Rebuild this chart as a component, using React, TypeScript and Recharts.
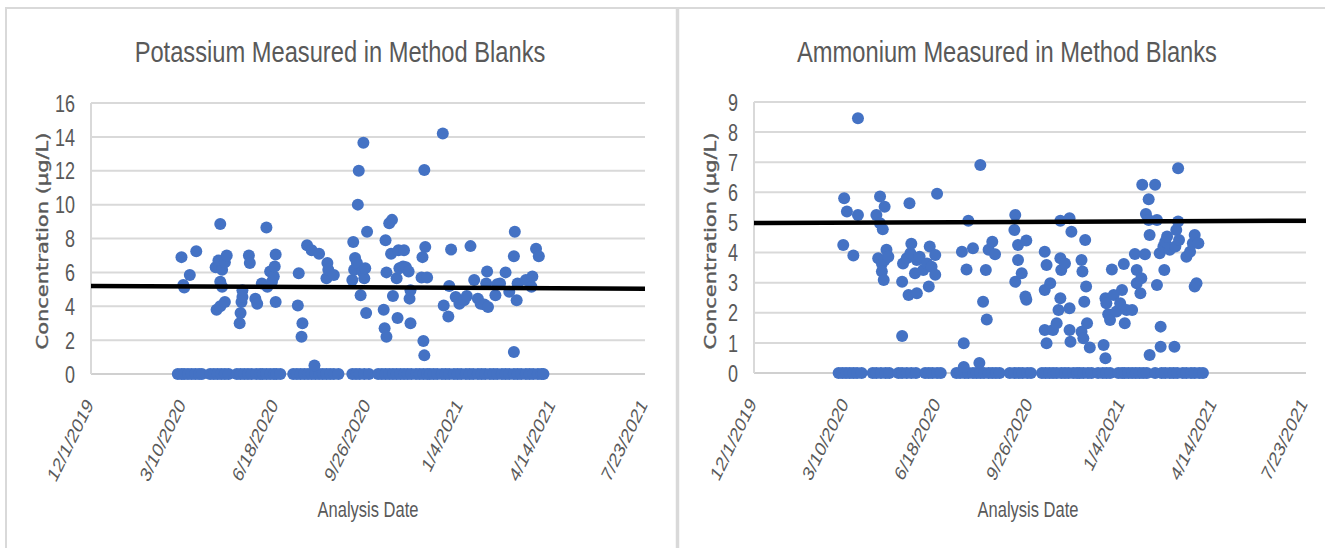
import { CartesianGrid, Scatter, ScatterChart, XAxis, YAxis } from 'recharts';

// x values are Excel date serials (43800 = 12/1/2019)
const xTicks = [43800, 43900, 44000, 44100, 44200, 44300, 44400];
const xTickLabels = ['12/1/2019', '3/10/2020', '6/18/2020', '9/26/2020', '1/4/2021', '4/14/2021', '7/23/2021'];

const potassiumTicks = [0, 2, 4, 6, 8, 10, 12, 14, 16];
const ammoniumTicks = [0, 1, 2, 3, 4, 5, 6, 7, 8, 9];

const potassiumDetected: [number, number][] = [
  [43898, 6.9], [43900, 5.25], [43901, 5.1], [43907, 5.85], [43914, 7.25],
  [43935, 6.3], [43936, 3.8], [43938, 6.7], [43940, 8.85], [43940, 5.45], [43940, 4.0], [43942, 6.15],
  [43942, 5.15], [43945, 6.6], [43945, 4.25], [43947, 7.0],
  [43961, 3.0], [43962, 3.6], [43963, 4.25], [43964, 4.55], [43964, 4.95], [43971, 7.0], [43972, 6.55],
  [43978, 4.45], [43980, 4.15],
  [43985, 5.35], [43990, 8.65], [43991, 5.15], [43994, 6.05], [43996, 5.45], [43998, 5.75], [43999, 6.35],
  [44000, 7.05], [44000, 4.25],
  [44024, 4.05], [44025, 5.95], [44028, 2.2], [44029, 3.0], [44034, 7.6], [44039, 7.3], [44042, 0.5],
  [44047, 7.1], [44055, 5.65], [44056, 6.55], [44057, 6.15], [44063, 5.85],
  [44083, 5.55], [44084, 7.8], [44085, 6.15], [44086, 6.85], [44088, 6.55], [44089, 10.0], [44090, 12.0],
  [44092, 4.65], [44094, 6.05], [44095, 13.65], [44096, 5.65], [44097, 6.25], [44098, 3.6], [44099, 8.4],
  [44117, 3.8], [44118, 2.7], [44119, 7.9], [44120, 6.0], [44120, 2.2], [44123, 8.9], [44125, 7.1],
  [44126, 9.1], [44127, 4.6], [44131, 5.65], [44132, 3.3], [44133, 7.3], [44134, 6.25], [44138, 6.35],
  [44139, 7.3], [44141, 6.3], [44144, 6.05], [44145, 4.45], [44146, 4.95], [44146, 3.0],
  [44158, 5.7], [44159, 6.9], [44160, 1.95], [44161, 12.05], [44161, 1.1], [44162, 7.5], [44164, 5.7],
  [44181, 14.2], [44182, 4.05], [44187, 3.4], [44188, 5.2], [44190, 7.35], [44195, 4.55], [44199, 4.15],
  [44204, 4.35], [44207, 4.6],
  [44211, 7.55], [44215, 5.55], [44219, 4.45], [44222, 4.15], [44226, 4.1], [44228, 5.35], [44229, 6.05],
  [44230, 3.95], [44238, 4.65], [44240, 5.3], [44243, 5.35], [44249, 6.0], [44253, 4.85],
  [44258, 6.95], [44258, 1.3], [44259, 8.4], [44261, 4.35], [44262, 5.35], [44271, 5.55], [44277, 5.15],
  [44278, 5.75], [44282, 7.4], [44285, 6.95],
];

const potassiumZeroDates = [
  43894, 43898, 43901, 43905, 43909, 43913, 43917, 43920,
  43929, 43933, 43937, 43941, 43945, 43949,
  43958, 43962, 43966, 43970, 43974, 43979, 43983,
  43986, 43990, 43994, 43998, 44001, 44005,
  44019, 44023, 44027, 44031, 44035, 44039, 44043, 44047, 44051, 44055, 44059, 44063, 44068,
  44083, 44087, 44091, 44096, 44101,
  44111, 44115, 44119, 44123, 44127, 44131, 44135, 44139, 44143, 44147, 44152,
  44156, 44160, 44164, 44167, 44171,
  44175, 44180, 44184, 44188, 44193, 44197, 44201, 44206, 44210, 44214, 44219, 44223, 44227, 44232,
  44236, 44240, 44245, 44249, 44253, 44258, 44262, 44266, 44271, 44275, 44279, 44284, 44288, 44290,
];

const potassiumTrend: [number, number][] = [[43800, 5.2], [44400, 5.03]];

const ammoniumDetected: [number, number][] = [
  [43897, 4.25], [43898, 5.8], [43901, 5.36], [43908, 3.9], [43913, 8.46], [43913, 5.25],
  [43933, 5.25], [43935, 3.81], [43937, 5.86], [43937, 4.97], [43939, 3.64], [43939, 3.37], [43940, 4.77],
  [43941, 3.09], [43942, 5.52], [43942, 3.75], [43944, 4.09], [43946, 3.86],
  [43961, 1.23], [43961, 3.03], [43962, 3.64], [43966, 3.81], [43968, 2.59], [43969, 5.64], [43970, 3.98],
  [43971, 4.29], [43975, 3.31], [43977, 3.75], [43977, 2.65], [43980, 3.86],
  [43984, 3.42], [43988, 3.64], [43990, 2.87], [43991, 4.2], [43993, 3.53], [43997, 3.92], [43997, 3.26],
  [43999, 5.95],
  [44026, 4.03], [44028, 0.99], [44028, 0.2], [44031, 3.44], [44033, 5.06], [44038, 4.14], [44045, 0.33],
  [44046, 6.91], [44049, 2.37], [44052, 3.42], [44053, 1.78], [44055, 4.09], [44059, 4.36], [44062, 3.94],
  [44083, 4.75], [44084, 5.25], [44084, 3.03], [44087, 4.25], [44087, 3.75], [44091, 3.31], [44095, 2.54],
  [44096, 4.4], [44096, 2.43],
  [44116, 4.03], [44116, 2.76], [44116, 1.43], [44118, 3.59], [44118, 0.99], [44122, 2.98], [44125, 1.43],
  [44129, 1.65], [44131, 2.09], [44133, 5.06], [44133, 3.81], [44133, 2.48], [44134, 3.42], [44138, 3.64],
  [44143, 5.14], [44143, 2.15], [44143, 1.43], [44144, 1.04], [44145, 4.69],
  [44156, 3.75], [44156, 1.37], [44157, 3.37], [44158, 1.15], [44159, 2.37], [44160, 4.42], [44161, 2.87],
  [44162, 1.65], [44165, 0.85],
  [44180, 0.93], [44182, 0.49], [44182, 2.48], [44183, 2.32], [44185, 1.95], [44187, 1.76], [44189, 3.44],
  [44191, 2.59], [44194, 2.04], [44198, 2.32], [44200, 2.76], [44202, 3.62], [44203, 1.65], [44205, 2.09],
  [44211, 2.09], [44214, 3.95], [44216, 3.42], [44216, 2.98], [44220, 2.65], [44221, 3.15], [44222, 6.25],
  [44225, 3.94], [44226, 5.28], [44229, 5.77], [44229, 5.08], [44230, 4.58], [44230, 0.6], [44236, 6.25],
  [44238, 5.08], [44238, 2.92],
  [44241, 3.98], [44242, 1.54], [44242, 0.87], [44245, 4.2], [44246, 3.42], [44247, 4.36], [44249, 4.53],
  [44252, 4.09], [44257, 0.87], [44258, 4.2], [44259, 4.75], [44261, 6.8], [44261, 5.03], [44262, 4.42],
  [44270, 3.86], [44274, 4.03], [44277, 4.31], [44279, 4.58], [44279, 2.87], [44281, 2.98], [44283, 4.31],
];

const ammoniumZeroDates = [
  43892, 43896, 43900, 43904, 43908, 43912, 43917,
  43929, 43933, 43938, 43943, 43947,
  43957, 43961, 43966, 43971, 43976,
  43986, 43990, 43994, 43999, 44003,
  44020, 44024, 44029, 44033, 44038, 44042, 44046, 44050, 44055, 44059, 44063, 44067,
  44078, 44083, 44088, 44092, 44097, 44101,
  44113, 44117, 44121, 44125, 44129, 44134, 44138, 44142, 44147, 44151,
  44154, 44158, 44163, 44167,
  44174, 44179, 44183, 44187,
  44196, 44200, 44203, 44207, 44211, 44215, 44219, 44223, 44227,
  44236, 44243, 44247, 44252, 44256, 44260, 44266, 44270, 44275, 44279, 44284, 44288,
];

const ammoniumTrend: [number, number][] = [[43800, 4.98], [44400, 5.06]];

const TEXT = '#595959';
const FONT = "'Liberation Sans', Arial, sans-serif";
const SQUEEZE = 0.75;

const toPoints = (pairs: [number, number][]) => pairs.map(([x, y]) => ({ x, y }));

const Dot = (p: any) => <circle cx={p.cx} cy={p.cy} r={6} fill="#4472C4" />;
const NoDot = () => <g />;

const YTick = (p: any) => (
  <g transform={`translate(${p.x},${p.y}) scale(${SQUEEZE},1)`}>
    <text textAnchor="end" dy="0.36em" fontSize={24} fill={TEXT} fontFamily={FONT}>
      {p.payload.value}
    </text>
  </g>
);

// date labels are slanted, their end sits just right of the tick
const XTick = (p: any) => (
  <g transform={`translate(${p.x + 3},${p.y + 23}) scale(${SQUEEZE},1)`}>
    <text transform="rotate(-57)" textAnchor="end" fontSize={21} fill={TEXT} fontFamily={FONT}>
      {xTickLabels[xTicks.indexOf(p.payload.value)]}
    </text>
  </g>
);

function SqText({ x, y, size, sx, children, rotate = 0, family = FONT, stroke = 0 }: any) {
  return (
    <g transform={`translate(${x},${y}) scale(${sx},1) rotate(${rotate})`}>
      <text
        textAnchor="middle"
        fontSize={size}
        fill={TEXT}
        fontFamily={family}
        stroke={stroke ? TEXT : 'none'}
        strokeWidth={stroke}
      >
        {children}
      </text>
    </g>
  );
}

interface PanelProps {
  left: number;
  width: number;
  yAxisWidth: number;
  margin: { top: number; right: number; bottom: number; left: number };
  yTicks: number[];
  detected: [number, number][];
  zeros: number[];
  trend: [number, number][];
}

function Panel({ left, width, yAxisWidth, margin, yTicks, detected, zeros, trend }: PanelProps) {
  const points = [...zeros.map((d) => ({ x: d, y: 0 })), ...toPoints(detected)];
  return (
    <div style={{ position: 'absolute', left, top: 0 }}>
      <ScatterChart width={width} height={548} margin={margin}>
        <CartesianGrid vertical={false} stroke="#d9d9d9" strokeWidth={2} />
        <XAxis
          type="number"
          dataKey="x"
          domain={[43800, 44400]}
          ticks={xTicks}
          tick={<XTick />}
          tickLine={false}
          tickSize={0}
          tickMargin={8}
          height={100}
          axisLine={{ stroke: '#d0d0d0', strokeWidth: 2 }}
          allowDataOverflow
        />
        <YAxis
          type="number"
          dataKey="y"
          domain={[0, yTicks[yTicks.length - 1]]}
          ticks={yTicks}
          tick={<YTick />}
          tickLine={false}
          tickSize={0}
          tickMargin={16}
          width={yAxisWidth}
          axisLine={{ stroke: '#d9d9d9', strokeWidth: 2 }}
        />
        <Scatter data={points} shape={Dot} isAnimationActive={false} />
        <Scatter
          data={toPoints(trend)}
          shape={NoDot}
          line={{ stroke: '#000000', strokeWidth: 4.5 }}
          isAnimationActive={false}
        />
      </ScatterChart>
    </div>
  );
}

export default function App() {
  return (
    <div style={{ position: 'absolute', left: 0, top: 0, width: 1325, height: 548, background: '#fff', overflow: 'hidden' }}>
      <Panel
        left={0}
        width={677}
        yAxisWidth={91}
        margin={{ top: 103, right: 32, bottom: 74, left: 0 }}
        yTicks={potassiumTicks}
        detected={potassiumDetected}
        zeros={potassiumZeroDates}
        trend={potassiumTrend}
      />
      <Panel
        left={679}
        width={646}
        yAxisWidth={75}
        margin={{ top: 102, right: 19, bottom: 75, left: 0 }}
        yTicks={ammoniumTicks}
        detected={ammoniumDetected}
        zeros={ammoniumZeroDates}
        trend={ammoniumTrend}
      />
      <svg width={1325} height={548} style={{ position: 'absolute', left: 0, top: 0, pointerEvents: 'none' }}>
        <line x1={5} y1={8} x2={1325} y2={8} stroke="#d9d9d9" strokeWidth={2} />
        <line x1={6} y1={7} x2={6} y2={548} stroke="#d9d9d9" strokeWidth={2} />
        <line x1={677.5} y1={7} x2={677.5} y2={548} stroke="#d9d9d9" strokeWidth={3.5} />

        <SqText x={340} y={62} size={30} sx={0.79}>Potassium Measured in Method Blanks</SqText>
        <SqText x={1007} y={62} size={30} sx={0.79}>Ammonium Measured in Method Blanks</SqText>

        <SqText x={48} y={241} size={21} sx={SQUEEZE} rotate={-90} stroke={0.5} family="'DejaVu Sans', sans-serif">
          Concentration (µg/L)
        </SqText>
        <SqText x={716} y={241} size={21} sx={SQUEEZE} rotate={-90} stroke={0.5} family="'DejaVu Sans', sans-serif">
          Concentration (µg/L)
        </SqText>

        <SqText x={368} y={517} size={22} sx={SQUEEZE}>Analysis Date</SqText>
        <SqText x={1028} y={517} size={22} sx={SQUEEZE}>Analysis Date</SqText>
      </svg>
    </div>
  );
}
